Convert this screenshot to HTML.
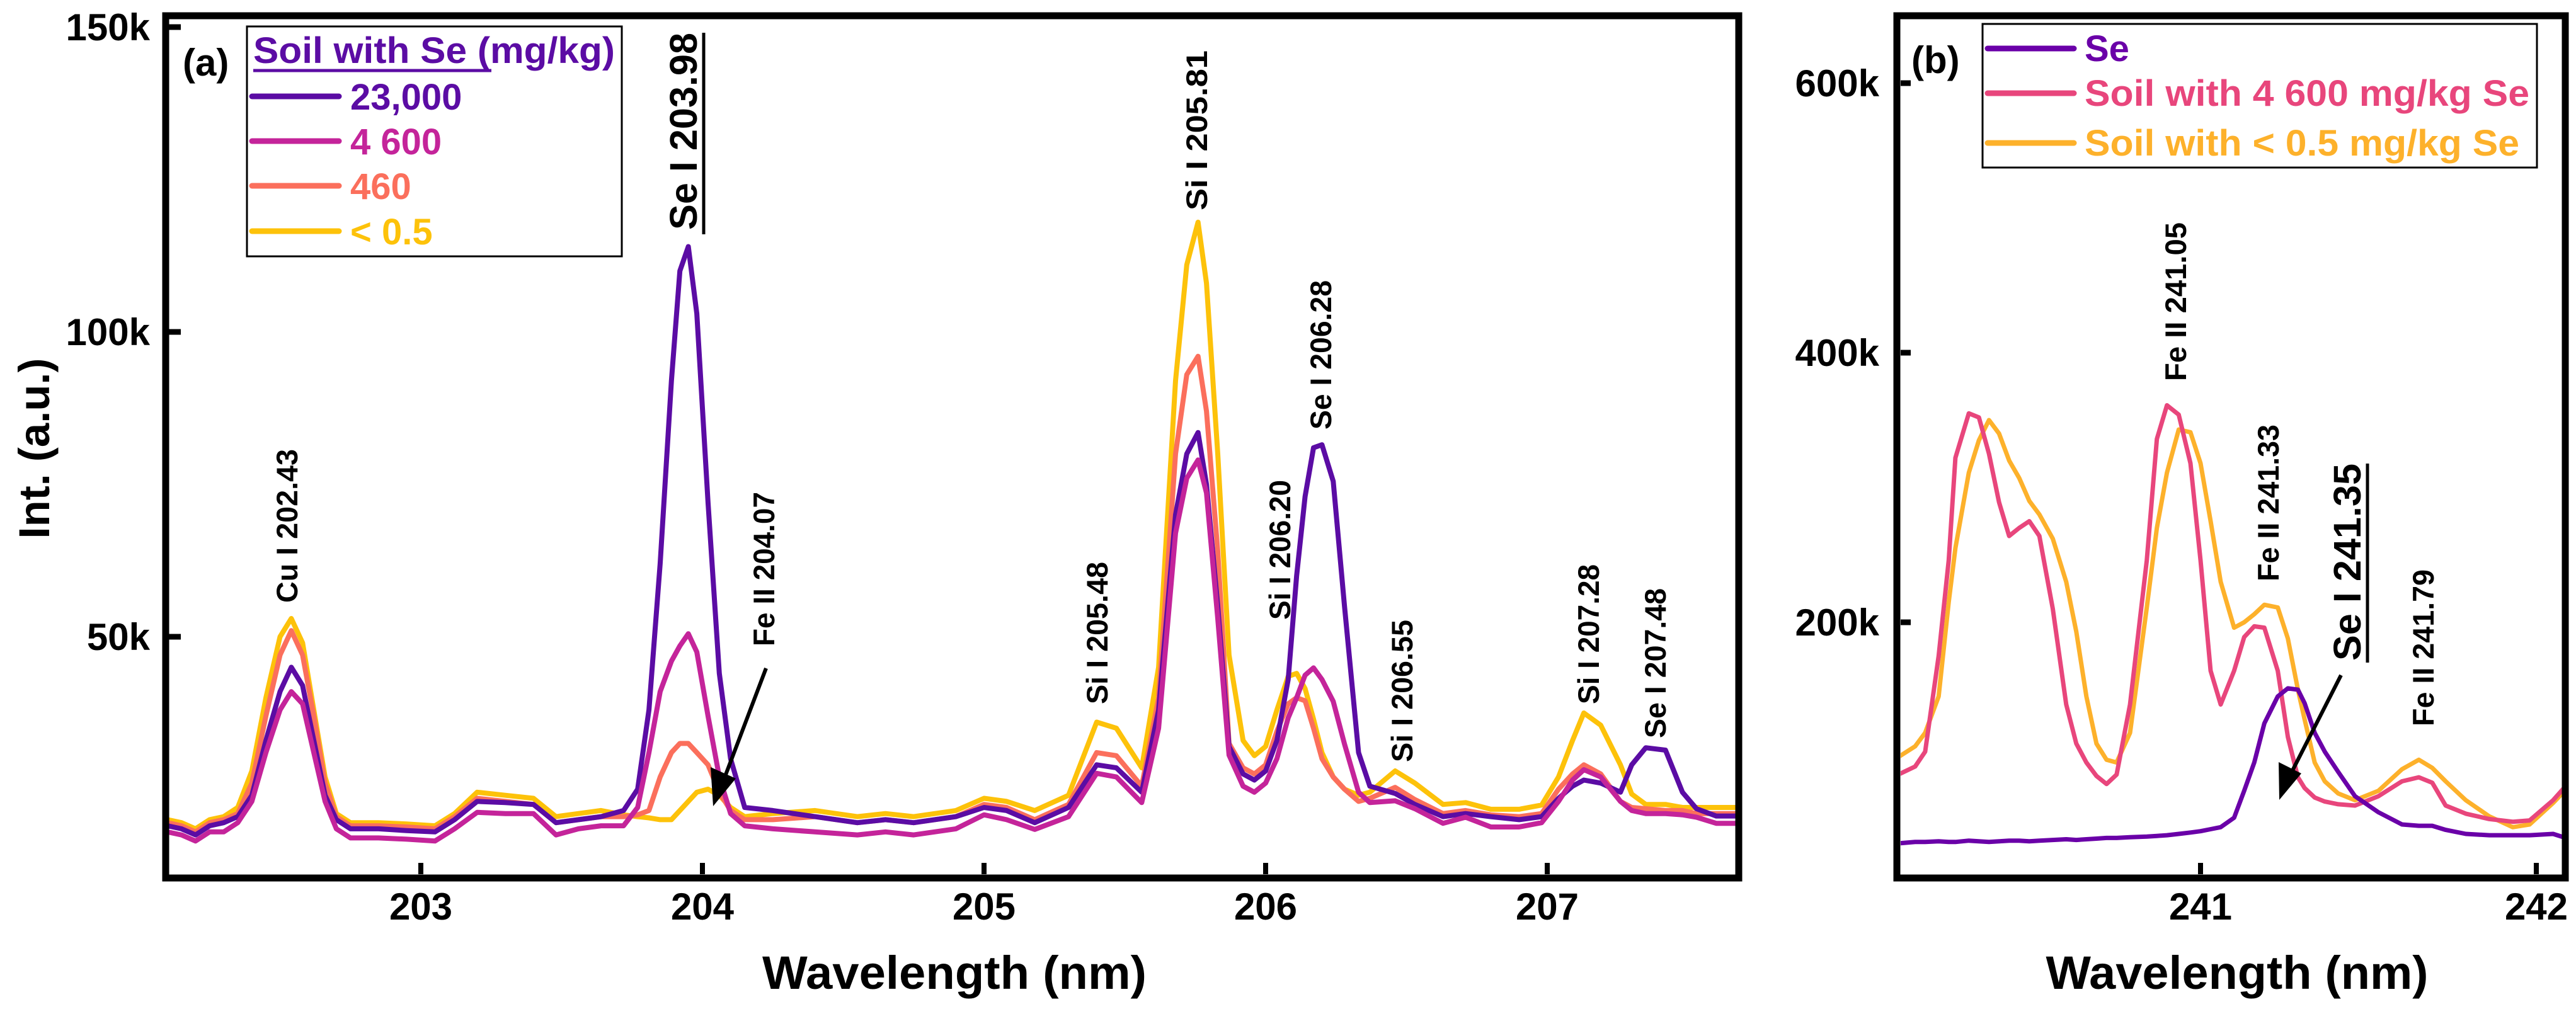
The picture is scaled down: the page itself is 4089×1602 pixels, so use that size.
<!DOCTYPE html>
<html><head><meta charset="utf-8"><title>Se LIBS spectra</title>
<style>
html,body{margin:0;padding:0;background:#fff;}
svg{display:block;font-family:"Liberation Sans",Arial,sans-serif;font-weight:bold;}
</style></head>
<body>
<svg id="chart" width="4089" height="1602" viewBox="0 0 4089 1602" xmlns="http://www.w3.org/2000/svg">
<defs>
<clipPath id="clipA"><rect x="268" y="30" width="2487" height="1358"/></clipPath>
<clipPath id="clipB"><rect x="3017" y="30" width="1050" height="1358"/></clipPath>
</defs>
<rect x="0" y="0" width="4089" height="1602" fill="#fff"/>

<!-- Panel A static -->
<g>
  <g id="seriesA" clip-path="url(#clipA)"></g>
  <g id="ticksA"></g>
  <rect x="263" y="25" width="2497" height="1369" fill="none" stroke="#000" stroke-width="11"/>
  <text x="54" y="712" font-size="69" text-anchor="middle" transform="rotate(-90 54 712)" dy="24" textLength="287" lengthAdjust="spacingAndGlyphs">Int. (a.u.)</text>
  <text x="1515" y="1570" font-size="74" text-anchor="middle" textLength="610" lengthAdjust="spacingAndGlyphs">Wavelength (nm)</text>
  <text x="290" y="120" font-size="60">(a)</text>
  <g>
    <rect x="392" y="42" width="595" height="365" fill="#fff" stroke="#000" stroke-width="3"/>
    <text x="402" y="100" font-size="58" fill="#5b0ca4" textLength="574" lengthAdjust="spacingAndGlyphs">Soil with Se (mg/kg)</text>
    <line x1="402" y1="112" x2="780" y2="112" stroke="#5b0ca4" stroke-width="5"/>
    <g><line x1="400" y1="153" x2="538" y2="153" stroke="#5b0ca4" stroke-width="9" stroke-linecap="round"/><text x="556" y="174" font-size="58" fill="#5b0ca4">23,000</text></g>
    <g><line x1="400" y1="224" x2="538" y2="224" stroke="#c4249a" stroke-width="9" stroke-linecap="round"/><text x="556" y="245" font-size="58" fill="#c4249a">4 600</text></g>
    <g><line x1="400" y1="295" x2="538" y2="295" stroke="#fb6f5c" stroke-width="9" stroke-linecap="round"/><text x="556" y="316" font-size="58" fill="#fb6f5c">460</text></g>
    <g><line x1="400" y1="367" x2="538" y2="367" stroke="#fdc20a" stroke-width="9" stroke-linecap="round"/><text x="556" y="388" font-size="58" fill="#fdc20a">&lt; 0.5</text></g>
  </g>
  <g font-size="47">
    <text transform="translate(472 957) rotate(-90)" textLength="244" lengthAdjust="spacingAndGlyphs">Cu I 202.43</text>
    <text transform="translate(1106 365) rotate(-90)" font-size="61" textLength="313" lengthAdjust="spacingAndGlyphs">Se I 203.98</text>
    <line x1="1117" y1="52" x2="1117" y2="372" stroke="#000" stroke-width="5"/>
    <text transform="translate(1229 1026) rotate(-90)" textLength="245" lengthAdjust="spacingAndGlyphs">Fe II 204.07</text>
    <text transform="translate(1758 1118) rotate(-90)" textLength="226" lengthAdjust="spacingAndGlyphs">Si I 205.48</text>
    <text transform="translate(1916 334) rotate(-90)" textLength="254" lengthAdjust="spacingAndGlyphs">Si I 205.81</text>
    <text transform="translate(2048 984) rotate(-90)" textLength="222" lengthAdjust="spacingAndGlyphs">Si I 206.20</text>
    <text transform="translate(2113 682) rotate(-90)" textLength="237" lengthAdjust="spacingAndGlyphs">Se I 206.28</text>
    <text transform="translate(2242 1210) rotate(-90)" textLength="226" lengthAdjust="spacingAndGlyphs">Si I 206.55</text>
    <text transform="translate(2538 1118) rotate(-90)" textLength="222" lengthAdjust="spacingAndGlyphs">Si I 207.28</text>
    <text transform="translate(2644 1172) rotate(-90)" textLength="238" lengthAdjust="spacingAndGlyphs">Se I 207.48</text>
  </g>
  <g>
    <line x1="1216" y1="1061" x2="1150" y2="1235" stroke="#000" stroke-width="6"/>
    <polygon points="1132,1280 1128,1218 1168,1236" fill="#000"/>
  </g>
</g>

<!-- Panel B static -->
<g>
  <g id="seriesB" clip-path="url(#clipB)"></g>
  <g id="ticksB"></g>
  <rect x="3011" y="25" width="1061" height="1369" fill="none" stroke="#000" stroke-width="11"/>
  <text x="3551" y="1570" font-size="74" text-anchor="middle" textLength="607" lengthAdjust="spacingAndGlyphs">Wavelength (nm)</text>
  <text x="3034" y="116" font-size="60">(b)</text>
  <g>
    <rect x="3147" y="38" width="880" height="228" fill="#fff" stroke="#000" stroke-width="3"/>
    <g><line x1="3155" y1="77" x2="3292" y2="77" stroke="#6a00a8" stroke-width="9" stroke-linecap="round"/><text x="3309" y="97" font-size="58" fill="#6a00a8">Se</text></g>
    <g><line x1="3155" y1="148" x2="3292" y2="148" stroke="#e8467c" stroke-width="9" stroke-linecap="round"/><text x="3309" y="168" font-size="58" fill="#e8467c" textLength="706" lengthAdjust="spacingAndGlyphs">Soil with 4 600 mg/kg Se</text></g>
    <g><line x1="3155" y1="227" x2="3292" y2="227" stroke="#fdb12b" stroke-width="9" stroke-linecap="round"/><text x="3309" y="247" font-size="58" fill="#fdb12b" textLength="690" lengthAdjust="spacingAndGlyphs">Soil with &lt; 0.5 mg/kg Se</text></g>
  </g>
  <g font-size="47">
    <text transform="translate(3470 605) rotate(-90)" textLength="252" lengthAdjust="spacingAndGlyphs">Fe II 241.05</text>
    <text transform="translate(3617 923) rotate(-90)" textLength="249" lengthAdjust="spacingAndGlyphs">Fe II 241.33</text>
    <text transform="translate(3747 1049) rotate(-90)" font-size="61" textLength="313" lengthAdjust="spacingAndGlyphs">Se I 241.35</text>
    <line x1="3758" y1="736" x2="3758" y2="1052" stroke="#000" stroke-width="5"/>
    <text transform="translate(3863 1153) rotate(-90)" textLength="249" lengthAdjust="spacingAndGlyphs">Fe II 241.79</text>
  </g>
  <g>
    <line x1="3716" y1="1072" x2="3633" y2="1235" stroke="#000" stroke-width="6"/>
    <polygon points="3618,1270 3617,1210 3653,1228" fill="#000"/>
  </g>
</g>

<script>
// ---------- Panel (a) data ----------
var wlA = [202.10,202.15,202.20,202.25,202.30,202.35,202.40,202.45,202.50,202.54,
 202.58,202.62,202.66,202.70,202.75,202.85,202.95,203.05,203.12,203.20,
 203.30,203.40,203.48,203.56,203.64,203.72,203.77,203.81,203.85,203.89,
 203.92,203.95,203.98,204.02,204.06,204.10,204.15,204.25,204.40,204.55,
 204.65,204.75,204.90,205.00,205.08,205.18,205.30,205.40,205.47,205.56,
 205.62,205.68,205.72,205.76,205.79,205.83,205.87,205.92,205.96,206.00,
 206.04,206.08,206.11,206.14,206.17,206.20,206.24,206.28,206.33,206.37,
 206.46,206.53,206.63,206.71,206.80,206.90,206.98,207.04,207.09,207.13,
 207.19,207.26,207.30,207.35,207.42,207.48,207.53,207.60,207.70];
var se23000 = [19,18.5,17.5,19,19.5,20.5,24,33,41,45,
 42,33,24,20,18.5,18.5,18.2,18,20,23,
 22.8,22.5,19.5,20,20.5,21.5,25,38,62,92,
 110,114,103,72,44,30,22,21.5,20.5,19.5,
 20,19.5,20.5,22,21.5,19.5,22,29,28.5,24.5,
 38,70,80,83.5,75,55,32,27.5,26.5,28,
 33,43,60,73,81,81.5,75.5,55,31,25.5,
 24.3,22.5,20.5,21,20.5,20,20.5,23.5,25.5,26.5,
 26,24.5,29,31.8,31.4,24.5,21.8,20.6,20.6];
var se4600 = [18,17.5,16.5,18,18,19.5,23,31,38,41,
 39,31,23,18.5,17,17,16.8,16.5,18.5,21.2,
 21,21,17.5,18.5,19,19,22,31,41,46,
 48.5,50.5,47.5,37,27,21,19,18.5,18,17.5,
 18,17.5,18.5,20.8,20,18.4,20.5,27.6,27,22.8,
 35,67,76,79,73.6,53,30.6,25.5,24.5,26,
 30,36.7,40,43.7,44.9,43,39.4,32.4,24.5,22.8,
 23.1,21.8,19.4,20.4,18.8,18.8,19.5,23,26.5,28.2,
 27,23,21.5,21,21,20.8,20.4,19.4,19.4];
var se460 = [19.5,19,18,19.5,20,21,26,37,47,51,
 47,37,26,20.5,19,19,18.8,18.5,20.5,23.5,
 23,22.5,19.5,20,20.5,20.5,20.8,21.5,27,31,
 32.5,32.5,31,29,24.5,21.5,20,20,20.5,19.5,
 20,19.5,20.5,22.5,22,20,22.5,31,30.5,25.5,
 40,80,93,96,87,64,32.5,28.5,27.5,29,
 34.5,39,40,39.5,35,30,27,25,23,23.5,
 25.3,23.3,21,21.5,20.8,20.5,21,25,27.5,29,
 27.5,23,22,21.8,21.5,21.5,21,21,21];
var seBelow05 = [20,19.5,18.5,20,20.5,22,28,40,50,53,
 49,38,27,21,19.5,19.5,19.3,19,21,24.5,
 24,23.5,20.5,21,21.5,20.8,20.5,20.3,20,20,
 21.5,23,24.5,25,24,22,20.5,21,21.5,20.5,
 21,20.5,21.5,23.5,23,21.5,24,36,35,28.5,
 45,92,111,118,108,80,47,33,30.5,32,
 38,43.5,44,41.5,36.5,31,27,25,24,24.5,
 28,26,22.5,22.8,21.7,21.7,22.4,27,33,37.5,
 35.5,29,24.2,22.5,22.5,22,22,22,22];
var xTicksA = [203,204,205,206,207];
var yTicksA = [50,100,150];
var yTickLabelsA = ["50k","100k","150k"];

// ---------- Panel (b) data ----------
var wlB = [240.10,240.15,240.18,240.22,240.25,240.27,240.31,240.34,240.37,240.40,
 240.43,240.46,240.49,240.52,240.56,240.60,240.63,240.66,240.69,240.72,
 240.75,240.79,240.84,240.87,240.90,240.935,240.97,241.00,241.03,241.06,
 241.10,241.13,241.16,241.19,241.23,241.26,241.29,241.31,241.34,241.37,
 241.41,241.46,241.53,241.60,241.65,241.69,241.73,241.79,241.86,241.93,
 241.98,242.05,242.10];
var pureSe = [36,37,37,37.5,37,37,38,37.5,37,37.5,
 38,38,37.5,38,38.5,39,38.5,39,39.5,40,
 40,40.5,41,41.5,42,43,44,45,46.5,48,
 55,75,96,125,145,151,150,140,118,104,
 89,71,59,50,49,49,46,43,42,42,
 42,43,39];
var soil4600 = [87,93,104,175,246,322,355,352,325,289,
 264,270,275,264,210,139,110,96,86,80,
 87,139,246,336,361,354,318,246,164,139,
 164,189,197,196,164,115,85,77,70,67,
 65,64,71,82,85,81,64,58,54,52,
 53,68,82];
var soilBelow05 = [100,108,118,145,215,255,311,335,350,340,
 320,307,290,280,262,230,193,145,110,98,
 96,118,211,270,311,343,341,318,275,230,
 196,200,206,213,211,188,150,128,96,82,
 73,68,75,91,98,92,82,68,56,48,
 50,66,79];
var xTicksB = [241,242];
var yTicksB = [200,400,600];
var yTickLabelsB = ["200k","400k","600k"];

// ---------- axis functions ----------
function xA(w){ return 668 + (w - 203) * 447; }
function yA(v){ return 1495 - v * 9.68; }
function xB(w){ return 3493 + (w - 241) * 533; }
function yB(v){ return 1416 - v * 2.14; }

var NS = "http://www.w3.org/2000/svg";
function mk(tag, attrs, parent){
  var e = document.createElementNS(NS, tag);
  for (var k in attrs) e.setAttribute(k, attrs[k]);
  parent.appendChild(e);
  return e;
}
function pathD(xs, ys, fx, fy){
  var d = "";
  var n = Math.min(xs.length, ys.length);
  for (var i = 0; i < n; i++) d += (i ? "L" : "M") + fx(xs[i]).toFixed(1) + "," + fy(ys[i]).toFixed(1);
  return d;
}

var gA = document.getElementById("seriesA");
var seriesA = [[seBelow05,"#fdc20a","series-below-0-5"],[se460,"#fb6f5c","series-460"],[se23000,"#5b0ca4","series-23000"],[se4600,"#c4249a","series-4600"]];
seriesA.forEach(function(s){
  var p = mk("path", {d: pathD(wlA, s[0], xA, yA), fill:"none", stroke:s[1], "stroke-width":8, "stroke-linejoin":"round"}, gA);
  
  
});

var gB = document.getElementById("seriesB");
var seriesB = [[soilBelow05,"#fdb12b","series-soil-below-0-5"],[soil4600,"#e8467c","series-soil-4600"],[pureSe,"#6a00a8","series-se"]];
seriesB.forEach(function(s){
  var p = mk("path", {d: pathD(wlB, s[0], xB, yB), fill:"none", stroke:s[1], "stroke-width":7, "stroke-linejoin":"round"}, gB);
  
  
});

var tA = document.getElementById("ticksA");
xTicksA.forEach(function(t){
  var x = xA(t);
  var l = mk("line", {x1:x, y1:1388, x2:x, y2:1370, stroke:"#000", "stroke-width":8}, tA);
  
  
  var tx = mk("text", {x:x, y:1460, "font-size":60, "text-anchor":"middle"}, tA);
  tx.textContent = String(t);
  
  
});
yTicksA.forEach(function(t, i){
  var y = yA(t);
  var l = mk("line", {x1:268, y1:y, x2:287, y2:y, stroke:"#000", "stroke-width":9}, tA);
  
  
  var tx = mk("text", {x:238, y:y + 21, "font-size":60, "text-anchor":"end"}, tA);
  tx.textContent = yTickLabelsA[i];
  
  
});

var tB = document.getElementById("ticksB");
xTicksB.forEach(function(t){
  var x = xB(t);
  var l = mk("line", {x1:x, y1:1388, x2:x, y2:1370, stroke:"#000", "stroke-width":8}, tB);
  
  
  var tx = mk("text", {x:x, y:1460, "font-size":60, "text-anchor":"middle"}, tB);
  tx.textContent = String(t);
  
  
});
yTicksB.forEach(function(t, i){
  var y = yB(t);
  var l = mk("line", {x1:3017, y1:y, x2:3033, y2:y, stroke:"#000", "stroke-width":9}, tB);
  
  
  var tx = mk("text", {x:2983, y:y + 21, "font-size":60, "text-anchor":"end"}, tB);
  tx.textContent = yTickLabelsB[i];
  
  
});
</script>
</svg>
</body></html>
